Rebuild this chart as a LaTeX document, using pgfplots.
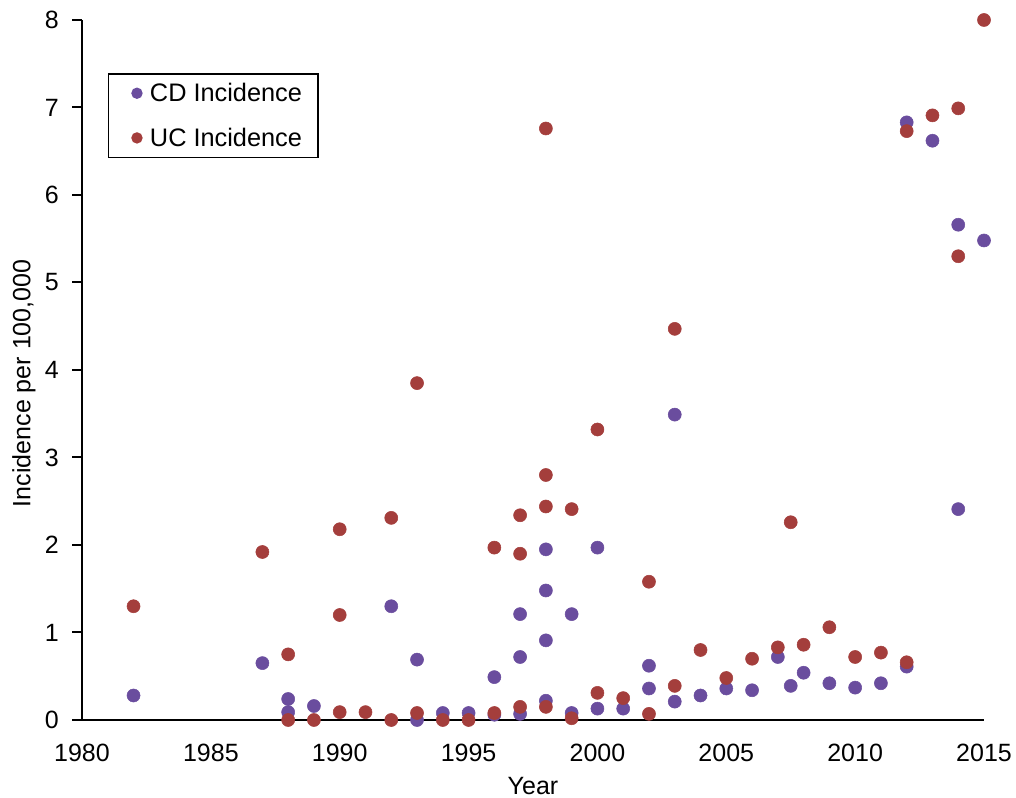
\documentclass[border=0pt]{standalone}
\usepackage{fontspec}
\setmainfont{Liberation Sans}
\usepackage{pgfplots}
\pgfplotsset{compat=1.18}
\definecolor{cdcol}{RGB}{106,77,158}
\definecolor{uccol}{RGB}{164,62,60}
\begin{document}
\begin{tikzpicture}
\begin{axis}[
  at={(0pt,0pt)}, anchor=south west,
  scale only axis, width=676.5pt, height=525pt,
  xmin=1980, xmax=2015, ymin=0, ymax=8,
  xtick={1980,1985,...,2015}, ytick={0,1,...,8},
  axis x line=bottom, axis y line=left,
  axis line style={-, line width=1.5pt, black},
  tick align=outside, major tick length=7.5pt,
  xtick style={draw=none},
  ytick style={line width=1.5pt, black},
  /pgf/number format/assume math mode=true,
  /pgf/number format/1000 sep={},
  tick label style={font=\fontsize{18.75}{22}\selectfont, inner sep=0pt},
  xticklabel style={anchor=center, yshift=-16.9pt},
  yticklabel style={anchor=east, xshift=-9.75pt},
  label style={font=\fontsize{18.75}{22}\selectfont},
  xlabel={Year},
  ylabel={Incidence per 100,000},
  xlabel style={at={(axis description cs:0.5,-0.094)}, anchor=center},
  ylabel style={at={(axis description cs:-0.0643,0.481)}, anchor=center},
  clip=false,
  legend image code/.code={\path[draw=none, fill=none] (-11.25pt,0pt) rectangle (7.75pt,0pt); \draw[#1, mark size=3.75pt] plot coordinates {(0pt,0pt)};},
  legend style={at={(axis description cs:0.0288,0.924)}, anchor=north west,
    draw=black, line width=1pt, font=\fontsize{19}{22}\selectfont,
    row sep=14.25pt, inner xsep=10pt, inner ysep=4.9pt},
  legend cell align=left,
]
\addplot[only marks, mark=*, mark size=4.9pt, color=cdcol, mark options={draw=none, fill=cdcol}] coordinates {
(1982,0.28) (1987,0.65) (1988,0.24) (1988,0.09) (1989,0.16)
(1992,1.30) (1993,0.69) (1993,0.0) (1994,0.08) (1995,0.08)
(1996,0.49) (1996,0.06) (1997,1.21) (1997,0.72) (1997,0.07)
(1998,1.95) (1998,1.48) (1998,0.91) (1998,0.22) (1999,1.21) (1999,0.08)
(2000,1.97) (2000,0.13) (2001,0.13) (2002,0.62) (2002,0.36)
(2003,3.49) (2003,0.21) (2004,0.28) (2005,0.36) (2006,0.34)
(2007,0.72) (2007.5,0.39) (2008,0.54) (2009,0.42) (2010,0.37) (2011,0.42)
(2012,6.83) (2012,0.61) (2013,6.62) (2014,5.66) (2014,2.41) (2015,5.48)
};
\addlegendentry{CD Incidence}
\addplot[only marks, mark=*, mark size=4.9pt, color=uccol, mark options={draw=none, fill=uccol}] coordinates {
(1982,1.30) (1987,1.92) (1988,0.75) (1988,0.0) (1989,0.0)
(1990,2.18) (1990,1.20) (1990,0.09) (1991,0.09) (1992,2.31) (1992,0.0)
(1993,3.85) (1993,0.08) (1994,0.0) (1995,0.0) (1996,1.97) (1996,0.08)
(1997,2.34) (1997,1.90) (1997,0.15) (1998,6.76) (1998,2.80) (1998,2.44) (1998,0.15)
(1999,2.41) (1999,0.02) (2000,3.32) (2000,0.31) (2001,0.25) (2002,1.58) (2002,0.07)
(2003,4.47) (2003,0.39) (2004,0.80) (2005,0.48) (2006,0.70) (2007,0.83)
(2007.5,2.26) (2008,0.86) (2009,1.06) (2010,0.72) (2011,0.77)
(2012,6.73) (2012,0.66) (2013,6.91) (2014,6.99) (2014,5.30) (2015,8.0)
};
\addlegendentry{UC Incidence}
\end{axis}
\pgfresetboundingbox
\useasboundingbox (-61.5pt,-58.5pt) rectangle (700.5pt,540pt);
\end{tikzpicture}
\end{document}
